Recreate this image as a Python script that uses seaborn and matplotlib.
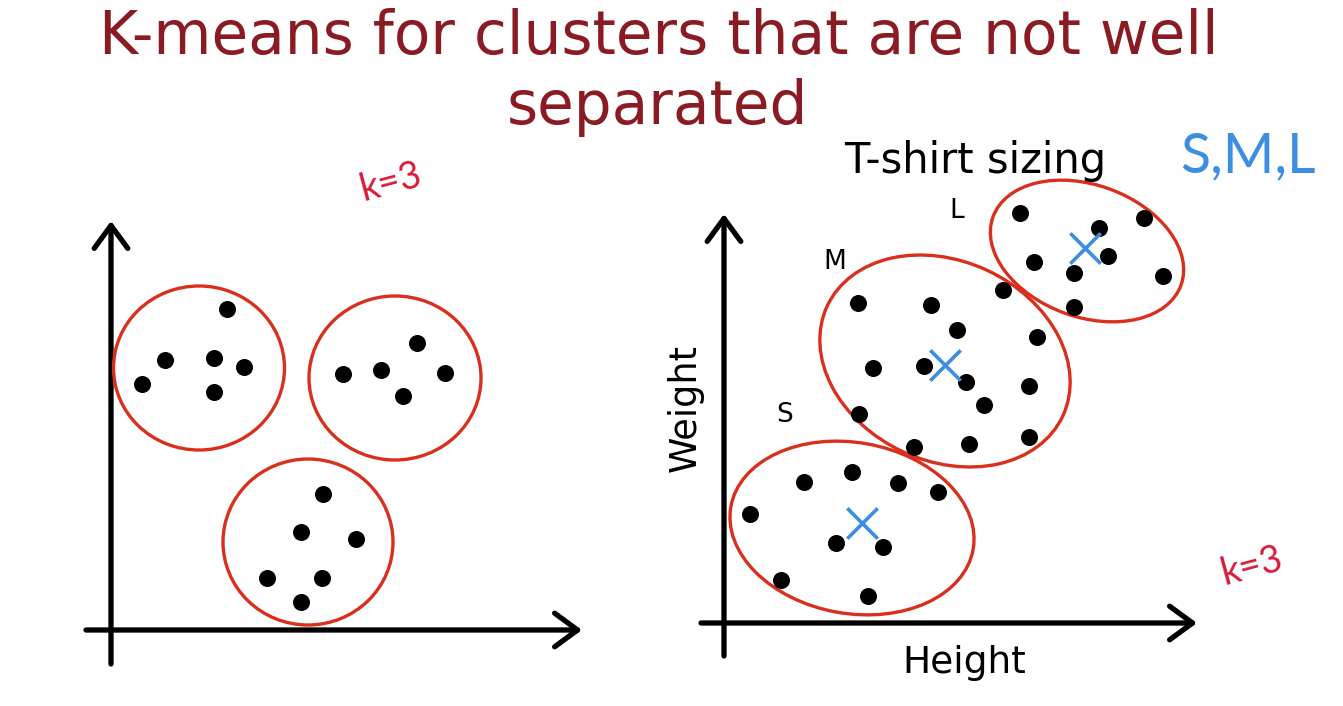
import matplotlib
matplotlib.use("Agg")
import matplotlib.pyplot as plt
from matplotlib.patches import Ellipse
import seaborn as sns
import pandas as pd

sns.set_theme(style="white")
plt.rcParams['font.family'] = ['DejaVu Sans']

# ---- data (pixel space) ----
left_cluster = ["A"] * 6 + ["B"] * 5 + ["C"] * 6
left_x = [227, 165, 214, 244, 142, 214,
          417, 343, 381, 445, 403,
          323, 301, 356, 267, 322, 301]
left_y = [309, 360, 358, 367, 384, 392,
          343, 374, 370, 373, 396,
          494, 532, 539, 578, 578, 602]

right_cluster = ["S"] * 9 + ["M"] * 14 + ["L"] * 8
right_x = [804, 852, 898, 938, 750, 836, 883, 781, 868,
           858, 931, 1003, 957, 1037, 873, 924, 966, 1029, 984, 859, 914, 969, 1029,
           1020, 1099, 1144, 1034, 1108, 1074, 1163, 1074]
right_y = [482, 472, 483, 492, 514, 543, 547, 580, 596,
           303, 305, 290, 330, 337, 368, 366, 382, 386, 405, 414, 447, 444, 437,
           213, 228, 218, 262, 256, 273, 276, 307]

centroid_labels = ["S", "M", "L"]
centroid_x = [862, 945, 1085]
centroid_y = [523, 365, 248]

# cluster outlines: centre x, centre y, width, height, angle
left_outlines = [(199, 368, 171, 164, 0), (395, 378, 172, 164, 0), (308, 542, 170, 166, 0)]
right_outlines = [(852, 528, 246, 171, 10), (945, 361, 260, 200, 25), (1087, 251, 200, 132, 20)]

size_labels = ["S", "M", "L"]
size_label_x = [785, 835, 957]
size_label_y = [415, 262, 211]

W, H = 1343, 706
fig = plt.figure(figsize=(W / 100, H / 100), dpi=100)
ax = fig.add_axes([0, 0, 1, 1])

red = "#d8301c"
blue = "#3b8ee0"
title_col = "#8b1b22"

# axes arrows
arrow_kw = dict(arrowstyle="->,head_length=0.75,head_width=0.55", lw=3.8, color="black",
                mutation_scale=22, shrinkA=0, shrinkB=0)
ax.annotate("", xy=(111, 221), xytext=(111, 664), arrowprops=arrow_kw)
ax.annotate("", xy=(582, 630), xytext=(86, 630), arrowprops=arrow_kw)
ax.annotate("", xy=(724, 214), xytext=(724, 656), arrowprops=arrow_kw)
ax.annotate("", xy=(1197, 623), xytext=(701, 623), arrowprops=arrow_kw)

# outlines
for (cx, cy, w, h, a) in left_outlines + right_outlines:
    ax.add_patch(Ellipse((cx, cy), w, h, angle=a, fill=False, edgecolor=red, lw=2.4, zorder=3))

# points
df_left = pd.DataFrame({"x": left_x, "y": left_y, "cluster": left_cluster})
df_right = pd.DataFrame({"x": right_x, "y": right_y, "cluster": right_cluster})
sns.scatterplot(data=df_left, x="x", y="y", color="black", s=150, linewidth=0, ax=ax, zorder=4, legend=False)
sns.scatterplot(data=df_right, x="x", y="y", color="black", s=150, linewidth=0, ax=ax, zorder=4, legend=False)
df_c = pd.DataFrame({"x": centroid_x, "y": centroid_y, "label": centroid_labels})
sns.scatterplot(data=df_c, x="x", y="y", marker="x", color=blue, s=480, linewidth=2.6, ax=ax, zorder=5, legend=False)
ax.set_xlim(0, W)
ax.set_ylim(H, 0)
ax.axis("off")

# texts
ax.text(659, 54, "K-means for clusters that are not well", ha="center", va="baseline",
        fontsize=43, color=title_col)
ax.text(657, 124, "separated", ha="center", va="baseline", fontsize=43, color=title_col)
ax.text(975, 173, "T-shirt sizing", ha="center", va="baseline", fontsize=30, color="black")
for lab, lx, ly in zip(size_labels, size_label_x, size_label_y):
    ax.text(lx, ly, lab, ha="center", va="center", fontsize=19, color="black")
ax.text(685, 408, "Weight", ha="center", va="center", rotation=90, fontsize=26.5, color="black")
ax.text(964, 663, "Height", ha="center", va="center", fontsize=27, color="black")
ax.text(391, 182, "k=3", ha="center", va="center", rotation=15, fontsize=27, color="#d81b3a",
        family="Lato")
ax.text(1252, 566, "k=3", ha="center", va="center", rotation=15, fontsize=27, color="#d81b3a",
        family="Lato")
ax.text(1248, 157, "S,M,L", ha="center", va="center", fontsize=40, color=blue,
        family="Lato")

fig.savefig("out.png", dpi=100, facecolor="white")
